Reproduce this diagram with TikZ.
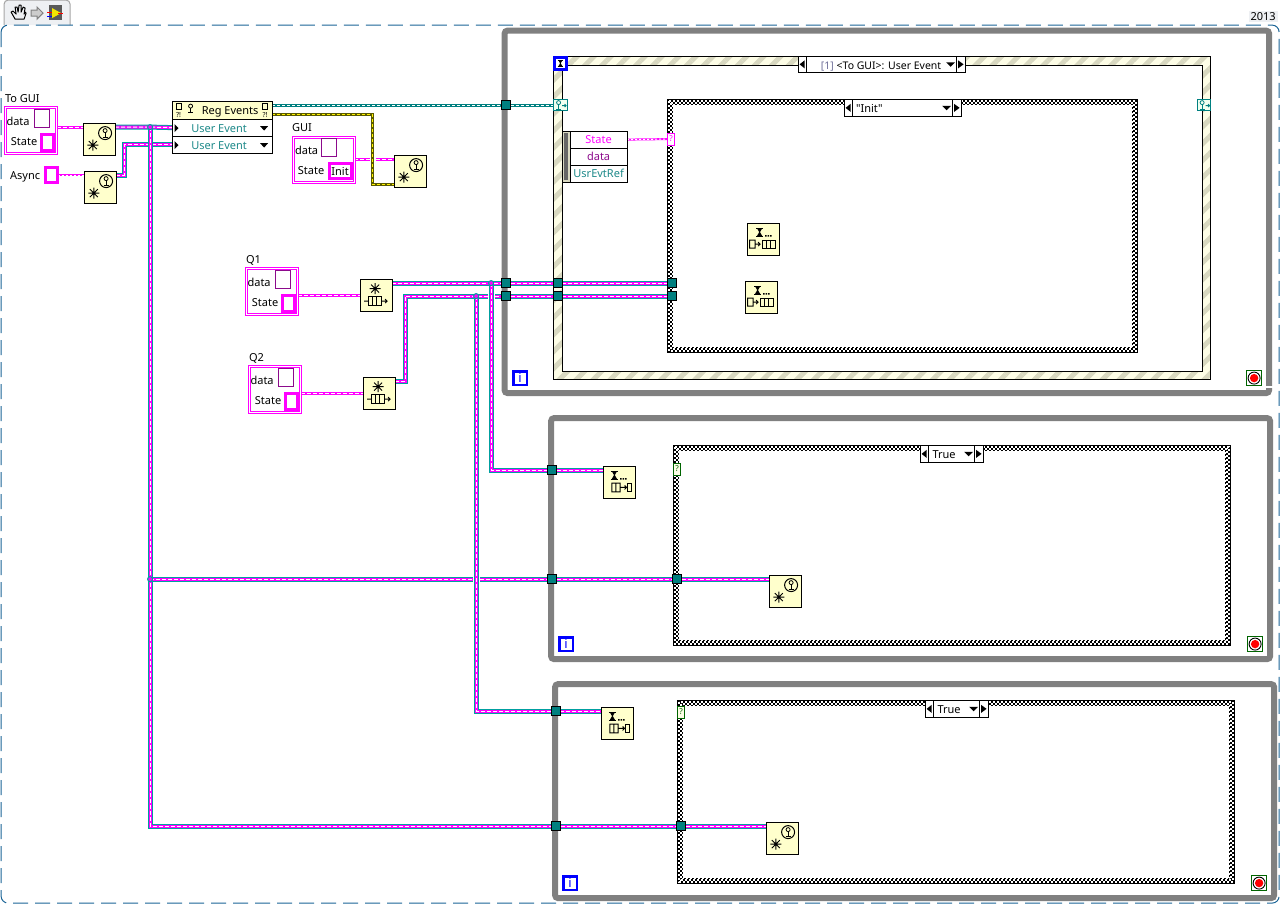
\documentclass[tikz,border=0pt]{standalone}
\usepackage{fontspec}
\setmainfont{Noto Sans}[Ligatures=TeXOff]
\usetikzlibrary{patterns.meta,backgrounds}
\definecolor{viyellow}{HTML}{FFFFCC}
\definecolor{vipink}{HTML}{FF00FF}
\definecolor{viteal}{HTML}{00A0A0}
\definecolor{tuncol}{HTML}{008080}
\definecolor{labteal}{HTML}{1E8A8A}
\definecolor{vipurple}{HTML}{8C0A8C}
\definecolor{loopgrey}{HTML}{808080}
\definecolor{evcream}{HTML}{FDFDE6}
\definecolor{evstripe}{HTML}{D8D8C0}
\definecolor{dashblue}{HTML}{1A6496}
\definecolor{tabgrey}{HTML}{EEF0F3}
\definecolor{stopgreen}{HTML}{006400}
\definecolor{grpnum}{HTML}{70709A}
\definecolor{wireolive}{HTML}{5A5A00}
\tikzset{
  lvtext/.style={font=\fontsize{11}{13}\selectfont,inner sep=0pt,outer sep=0pt,text height=8pt,text depth=0pt},
  vibox/.style={draw=black,fill=viyellow,line width=1pt,minimum size=32pt,inner sep=0pt,outer sep=0pt},
  tunnelbox/.style={draw=black,fill=tuncol,line width=1pt,minimum size=9pt,inner sep=0pt,outer sep=0pt},
  rowbox/.style={lvtext,draw=black,fill=white,line width=1pt,anchor=north west,minimum height=17pt},
  whilewire/.style={draw=loopgrey,line width=6pt,rounded corners=3pt},
  evframe/.style={draw=black,line width=1pt,even odd rule,preaction={fill=evcream,even odd rule},
    pattern={Lines[angle=45,distance=12pt,line width=5pt]},pattern color=evstripe},
  mwire/.style={draw=viteal,line width=5pt,
    postaction={draw=vipink,line width=3pt},
    postaction={draw=white,line width=1pt,dash pattern=on 4pt off 2pt}},
  pwire/.style={draw=vipink,line width=3pt,
    postaction={draw=white,line width=1pt,dash pattern=on 4pt off 2pt}},
  swire/.style={draw=vipink,line width=2pt,
    postaction={draw=white,line width=1pt,dash pattern=on 2pt off 2pt}},
  ewire/.style={draw=tuncol,line width=3pt,
    postaction={draw=white,line width=1pt,dash pattern=on 3pt off 2pt}},
  ywire/.style={draw=wireolive,line width=3pt,
    postaction={draw=yellow,line width=1pt,dash pattern=on 3pt off 2pt}},
  jdot/.style={draw=viteal,fill=vipink,line width=1pt},
  statebox/.style={draw=vipink,fill=white,line width=3pt,inner sep=0pt,outer sep=0pt,anchor=north west},
  databox/.style={draw=vipurple,fill=white,line width=1pt,inner sep=0pt,outer sep=0pt,anchor=north west,minimum width=15pt,minimum height=18pt},
  clusterbox/.style={draw=vipink,double=white,double distance=1pt,line width=1pt,fill=white,inner sep=0pt,outer sep=0pt,anchor=north west},
  iterbox/.style={draw=blue,fill=white,line width=2.4pt,minimum size=13.5pt,inner sep=0pt,text=blue,font=\fontsize{13}{13}\selectfont\bfseries},
  stopbox/.style={draw=stopgreen,fill=white,line width=1pt,minimum size=15pt,inner sep=0pt},
  pics/hourg/.style={code={
    \draw[line width=1pt](0,0)--(7,0)(0,8)--(7,8);
    \fill(.8,0)--(6.2,0)--(3.9,4)--(6.2,8)--(.8,8)--(3.1,4)--cycle;}},
  pics/antenna/.style={code={
    \draw[line width=.8pt](0,-2) circle(2);
    \draw[line width=.8pt](0,0)--(0,4)(-2.5,4.5)--(2.5,4.5);}},
  pics/burst/.style={code={
    \draw[line width=.9pt](-5.5,0)--(5.5,0)(0,-5.5)--(0,5.5)(-4,-4)--(4,4)(-4,4)--(4,-4);}},
  pics/qcells/.style={code={
    \draw[line width=1pt](0,0)rectangle(13,8.5)(4.3,0)--(4.3,8.5)(8.7,0)--(8.7,8.5);}},
  pics/ntfic/.style={code={
    \pic at(9.7,22){burst};
    \draw[line width=1pt](22,10)circle(6.5);
    \pic at(22,9.5){antenna};}},
  pics/obtq/.style={code={
    \pic at(15,9.5){burst};
    \pic at(8,17.5){qcells};
    \draw[line width=1pt](4,22)--(8,22)(21,22)--(27,22)(25,20)--(27,22)--(25,24);}},
  pics/dqin/.style={code={
    \pic at(9,5){hourg};
    \fill(18,12)rectangle(19.4,13.4)(20.5,12)rectangle(21.9,13.4)(23,12)rectangle(24.4,13.4);
    \draw[line width=1pt](2.5,17)rectangle(8,25)(8,21)--(13,21)(11,19)--(13,21)--(11,23);
    \pic at(15,17){qcells};}},
  pics/dqout/.style={code={
    \pic at(7.8,5){hourg};
    \fill(17,12)rectangle(18.4,13.4)(19.5,12)rectangle(20.9,13.4)(22,12)rectangle(23.4,13.4);
    \draw[line width=1pt](8.7,17)rectangle(17,25.7)(12.8,17)--(12.8,25.7)(17,21.3)--(23.5,21.3)(21.5,19.3)--(23.5,21.3)--(21.5,23.3);
    \draw[line width=1pt](24,17)rectangle(28.5,25.7);}},
  pics/stopic/.style={code={
    \draw[line width=.9pt](0,0)circle(6);
    \fill[red](0,0)circle(4.2);}},
  pics/evterm/.style={code={
    \pic at(4.5,5){antenna};
    \draw[line width=.8pt](8,6)--(12,6)(10.5,4.5)--(12,6)--(10.5,7.5);}},
}
\newcommand{\vinode}[4]{%
  \node[vibox,anchor=north west](#1)at(#2,#3){};
  \pic at(#2,#3){#4};
  \coordinate(#1-in)at([yshift=-4pt]#1.north west);
  \coordinate(#1-out)at([yshift=-4pt]#1.north east);
}
\newcommand{\clusterq}[4]{%
  \node[clusterbox,minimum width=51pt,minimum height=45.5pt](#1)at(#2+1.5,#3+1.5){};
  \node[lvtext,anchor=west](#1-lab)at(#2+1,#3-8){#4};
  \node[lvtext](#1-dt)at(#2+14,#3+15){data};
  \node[databox](#1-db)at(#2+30,#3+3){};
  \node[lvtext](#1-st)at(#2+20,#3+35){State};
  \node[statebox,minimum width=12pt,minimum height=16pt](#1-sb)at(#2+37.5,#3+28){};
}
\newcommand{\casesel}[4]{%
  \node[draw=black,fill=white,line width=1pt,inner sep=0pt,outer sep=0pt,anchor=north west,minimum width=#4pt,minimum height=16.5pt](#1)at(#2,#3){};
  \draw[line width=1pt]([xshift=8pt]#1.north west)--([xshift=8pt]#1.south west);
  \fill([xshift=1.5pt]#1.west)--++(5pt,-4pt)--++(0,8pt)--cycle;
  \draw[line width=1pt]([xshift=-9pt]#1.north east)--([xshift=-9pt]#1.south east);
  \fill([xshift=-1.5pt]#1.east)--++(-5.5pt,-4pt)--++(0,8pt)--cycle;
  \fill([xshift=-19pt,yshift=2pt]#1.east)--++(9pt,0)--++(-4.5pt,-4.5pt)--cycle;
}
\newcommand{\caseband}[4]{%
  \draw[line width=6pt](#1+3,#2+3)rectangle(#3-3,#4-3);
  \draw[white,line width=2pt,dash pattern=on 2pt off 2pt](#1+2,#2+2)rectangle(#3-2,#4-2);
  \draw[white,line width=2pt,dash pattern=on 2pt off 2pt](#1+4,#2+4)rectangle(#3-4,#4-4);
  \draw[white,line width=1pt,dash pattern=on 2pt off 2pt](#1+5.5,#2+5.5)rectangle(#3-5.5,#4-5.5);
}
\begin{document}
\begin{tikzpicture}[x=1pt,y=-1pt,line join=miter]
\useasboundingbox(-.1,-.1)rectangle(1280.9,904.9);

% tool bar
\draw[draw=black!35,fill=tabgrey,line width=1pt,rounded corners=4pt](4,25)--(4,0)--(70,0)--(70,25);
\draw[line width=1pt,line join=round](15,19)--(11,12)--(13,11)--(16,14)--(15,7)--(17,7)--(18,12)--(19,5)--(21,5)--(21,12)--(23,7)--(25,8)--(24,14)--(25,12)--(26,13)--(24,19)--cycle;
\draw[draw=black!50,fill=black!20,line width=1pt](31,10)--(37,10)--(37,7)--(43,13)--(37,19)--(37,16)--(31,16)--cycle;
\fill[black!65](49,5)rectangle(62,20);
\fill[yellow!90!olive](52,8)--(61,13)--(52,18)--cycle;
\draw[red,line width=.8pt](47,12)--(52,12)(58,13)--(63,13);
\draw[blue,line width=.8pt](47,16)--(52,16);
\draw[draw=dashblue,line width=1pt,dash pattern=on 15pt off 7pt,rounded corners=7pt](1,25)rectangle(1279,903);
\node[lvtext,fill=tabgrey,inner xsep=2pt,inner ysep=1.5pt](yeartag)at(1263,16){2013};

% front panel
\clusterq{togui}{4}{106}{To GUI}
\node[lvtext](asynclab)at(25,175){Async};
\node[statebox,minimum width=12pt,minimum height=15pt](asyncbox)at(45.5,167.5){};
\vinode{ntfin}{83}{123}{ntfic}
\vinode{ntfas}{84}{171}{ntfic}

\node[vibox,lvtext,anchor=north west,minimum width=100pt,minimum height=18pt](regev)at(172,101){\hspace*{16pt}Reg Events};
\pic at(190.5,108){antenna};
\draw[line width=.8pt](176,103)rectangle(181,109);
\draw[line width=.8pt](262,103)rectangle(267,109);
\node[lvtext,text height=5pt,font=\fontsize{7}{7}\selectfont\bfseries](regqa)at(178.5,115){?!};
\node[lvtext,text height=5pt,font=\fontsize{7}{7}\selectfont\bfseries](regqb)at(265,115){?!};
\node[rowbox,minimum width=100pt,inner xsep=0pt](rowa)at(172,119){};
\node[rowbox,minimum width=100pt,inner xsep=0pt](rowb)at(172,136){};
\node[lvtext,text=labteal](rowatx)at(219,128){User Event};
\node[lvtext,text=labteal](rowbtx)at(219,145){User Event};
\fill(174.5,124)--(178.5,128)--(174.5,132)--cycle;
\fill(174.5,141)--(178.5,145)--(174.5,149)--cycle;
\fill(260,126)--(268,126)--(264,130.5)--cycle;
\fill(260,143)--(268,143)--(264,147.5)--cycle;

\node[lvtext,anchor=west](guilab)at(292,127){GUI};
\node[clusterbox,minimum width=61pt,minimum height=45pt](gui)at(293,137){};
\node[lvtext](guidt)at(306.5,150){data};
\node[databox](guidb)at(321,138.5){};
\node[lvtext](guist)at(311,170){State};
\node[statebox,minimum width=22pt,minimum height=15pt,font=\fontsize{11}{13}\selectfont](guisb)at(329,163.5){Init};
\vinode{ntfgui}{394}{155}{ntfic}
\coordinate(ntfgui-ev)at([yshift=3pt]ntfgui.south west);

\clusterq{qa}{245}{267}{Q1}
\clusterq{qb}{248}{365}{Q2}
\vinode{obqa}{360}{279}{obtq}
\vinode{obqb}{363}{377}{obtq}

% loop one
\node[iterbox](itera)at(520,378){i};
\node[stopbox](stopa)at(1254,378){};
\pic at(1254,378){stopic};
\node[draw=blue,fill=white,line width=2.4pt,minimum size=12pt,inner sep=0pt](evhour)at(560.3,63.3){};
\pic[scale=.8] at(557.5,60){hourg};
\casesel{selev}{798}{56}{167}
\node[lvtext,font=\fontsize{10.5}{13}\selectfont](selevtx)at(881,65){{\color{grpnum}[1]} <To GUI>: User Event};
\casesel{selin}{844}{99.5}{117}
\node[lvtext,anchor=west](selintx)at(856,108){"Init"};
\node[draw=tuncol,fill=green!6,line width=1pt,minimum width=13.5pt,minimum height=11.5pt,inner sep=0pt](evl)at(560.5,105){};
\pic[color=tuncol] at(554,99.5){evterm};
\node[draw=tuncol,fill=green!6,line width=1pt,minimum width=13.5pt,minimum height=11.5pt,inner sep=0pt](evr)at(1204,105){};
\pic[color=tuncol] at(1197.5,99.5){evterm};
\node[draw=black,fill=evstripe,line width=1pt,anchor=north west,minimum width=8.5pt,minimum height=51pt,inner sep=0pt,outer sep=0pt](evbar)at(562,131){};
\fill[black!60](564,133)rectangle(568,180);
\node[rowbox,minimum width=57pt,text=vipink](rstate)at(570,131){State};
\node[rowbox,minimum width=57pt,text=vipurple](rdata)at(570,148){data};
\node[rowbox,minimum width=57pt,text=labteal](rref)at(570,165){UsrEvtRef};
\node[draw=vipink,fill=white,line width=1pt,minimum width=7.5pt,minimum height=12pt,inner sep=0pt,text=vipink,font=\fontsize{8}{8}\selectfont](selq)at(671,139){?};
\vinode{dqa}{747}{223}{dqin}
\vinode{dqb}{745}{281}{dqin}
\node[tunnelbox](ta1)at(506,105){};
\node[tunnelbox](ta2)at(506,283){};
\node[tunnelbox](ta3)at(506,296){};
\node[tunnelbox](tb2)at(557.5,283){};
\node[tunnelbox](tb3)at(557.5,296){};
\node[tunnelbox](tc2)at(671.5,283){};
\node[tunnelbox](tc3)at(671.5,296){};

% loop two
\node[iterbox](iterb)at(566,644){i};
\node[stopbox](stopb)at(1255,644){};
\pic at(1255,644){stopic};
\casesel{selt}{920}{445.5}{63}
\node[lvtext](selttx)at(944,454){True};
\node[draw=stopgreen,fill=evcream,line width=1pt,minimum width=7.5pt,minimum height=12pt,inner sep=0pt,text=stopgreen,font=\fontsize{8}{8}\selectfont](caseq)at(677,469){?};
\vinode{relqa}{603}{466}{dqout}
\vinode{ntfb}{769}{575}{ntfic}
\node[tunnelbox](td1)at(552,470){};
\node[tunnelbox](td2)at(552,579){};
\node[tunnelbox](td3)at(677,579){};

% loop three
\node[iterbox](iterc)at(570,883){i};
\node[stopbox](stopc)at(1259,883){};
\pic at(1259,883){stopic};
\casesel{selu}{925}{700.5}{63}
\node[lvtext](selutx)at(949,709){True};
\node[draw=stopgreen,fill=evcream,line width=1pt,minimum width=7.5pt,minimum height=12pt,inner sep=0pt,text=stopgreen,font=\fontsize{8}{8}\selectfont](caser)at(681,712){?};
\vinode{relqb}{601}{707}{dqout}
\vinode{ntfc}{766}{822}{ntfic}
\node[tunnelbox](te1)at(555.5,711){};
\node[tunnelbox](te2)at(556,826){};
\node[tunnelbox](te3)at(681,826){};

% junctions and bends
\coordinate(jina)at(150,127);
\coordinate(jinb)at(150,579);
\coordinate(asbend)at(124,175);
\coordinate(jqa)at(491,283);
\coordinate(jqb)at(476,296);
\coordinate(qbbend)at(405,381);
\coordinate(gapa)at(488,296);
\coordinate(gapb)at(495,296);
\coordinate(gapc)at(473,579);
\coordinate(gapd)at(480,579);
\coordinate(gape)at(370,159);
\coordinate(gapf)at(376,159);
\coordinate(yout)at(272,114);
\coordinate(ybend)at(372,114);

\begin{scope}[on background layer]
\draw[whilewire](504.5,30.5)rectangle(1269,393);
\draw[white,line width=2pt](1265,387)--(1273,387);
\draw[whilewire](551,418)rectangle(1270,659);
\draw[whilewire](555,684)rectangle(1274,898);
\draw[evframe](553.5,56.5)rectangle(1210.5,379)(562,65)rectangle(1202,371);
\caseband{667}{99}{1138}{353}
\caseband{673}{445}{1231}{646}
\caseband{677}{700}{1235}{884}

\draw[pwire](togui.east|-ntfin-in)--(ntfin-in);
\draw[swire](asyncbox.east)--(ntfas-in);
\draw[mwire](ntfin-out)--(jina)--(rowa.west);
\draw[mwire](ntfas-out)--(asbend)|-(rowb.west);
\draw[mwire](jina)|-(te2)--(te3)--(ntfc-in);
\draw[mwire](jinb)--(gapc);
\draw[mwire](gapd)--(td2)--(td3)--(ntfb-in);
\draw[ewire](regev.east|-ta1)--(ta1)--(evl);
\draw[pwire](gui.east|-ntfgui-in)--(gape);
\draw[pwire](gapf)--(ntfgui-in);
\draw[ywire](yout)--(ybend)|-(ntfgui-ev);
\draw[pwire](qa.east|-obqa.west)--(obqa.west);
\draw[pwire](qb.east|-obqb.west)--(obqb.west);
\draw[mwire](obqb-out)--(qbbend)|-(jqb)--(gapa);
\draw[mwire](gapb)--(ta3)--(tb3)--(tc3);
\draw[mwire](obqa-out)--(jqa)--(ta2)--(tb2)--(tc2);
\draw[mwire](jqb)|-(te1)--(relqb-in);
\draw[mwire](jqa)|-(td1)--(relqa-in);
\draw[swire](rstate.east)--(selq.west);
\draw[jdot](jina)circle(2.5);
\draw[jdot](jinb)circle(2.5);
\draw[jdot](jqa)circle(2.5);
\draw[jdot](jqb)circle(2.5);
\end{scope}
\end{tikzpicture}
\end{document}
